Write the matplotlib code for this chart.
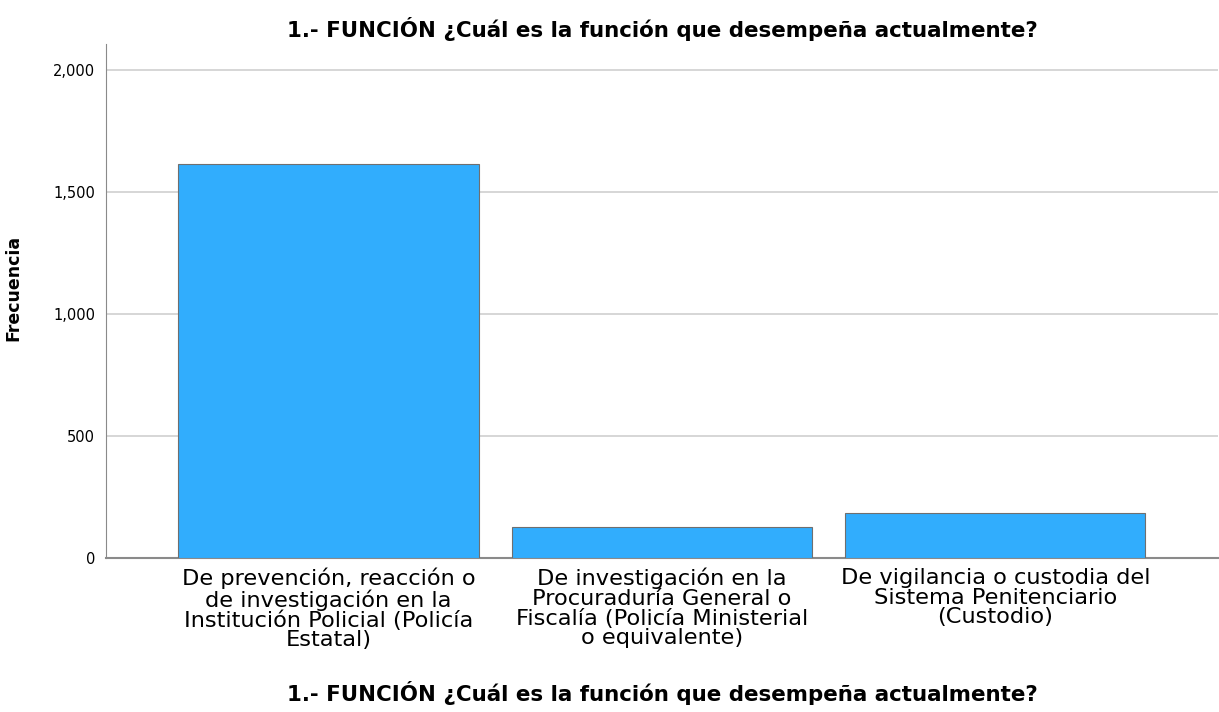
import matplotlib.pyplot as plt
from matplotlib.ticker import FuncFormatter

categorias = [
    'De prevención, reacción o\nde investigación en la\nInstitución Policial (Policía\nEstatal)',
    'De investigación en la\nProcuraduría General o\nFiscalía (Policía Ministerial\no equivalente)',
    'De vigilancia o custodia del\nSistema Penitenciario\n(Custodio)',
]
frecuencias = [1615, 129, 184]
titulo = '1.- FUNCIÓN ¿Cuál es la función que desempeña actualmente?'

plt.rcParams['font.family'] = ['DejaVu Sans']

fig = plt.figure(figsize=(12.19, 7.12), dpi=100)
ax = fig.add_axes([0.087, 0.216, 0.912, 0.722])

x = range(len(categorias))
ax.bar(x, frecuencias, width=0.9, color='#31adfd', edgecolor='#6f6f6f', linewidth=0.8, zorder=3)

ax.set_xlim(-0.667, 2.667)
ax.set_ylim(0, 2105)
ax.set_yticks([0, 500, 1000, 1500, 2000])
ax.yaxis.set_major_formatter(FuncFormatter(lambda v, p: f'{int(v):,}'))
ax.grid(axis='y', color='#d0d0d0', linewidth=1.2, zorder=0)
ax.set_xticks(list(x))
ax.set_xticklabels(categorias, fontsize=16.2, linespacing=0.98)
ax.tick_params(axis='both', length=0)
ax.tick_params(axis='y', labelsize=10.5, pad=8)
ax.tick_params(axis='x', pad=7)

for s in ['top', 'right']:
    ax.spines[s].set_visible(False)
ax.spines['left'].set_color('#8a8a8a')
ax.spines['bottom'].set_color('#8a8a8a')
ax.spines['bottom'].set_linewidth(1.5)

ax.set_ylabel('Frecuencia', fontsize=12.5, fontweight='bold')
ax.yaxis.set_label_coords(-0.0756, 0.526)
ax.set_xlabel(titulo, fontsize=15.4, fontweight='bold', labelpad=22)
ax.set_title(titulo, fontsize=15.4, fontweight='bold', pad=5)

fig.savefig('out.png', dpi=100)
